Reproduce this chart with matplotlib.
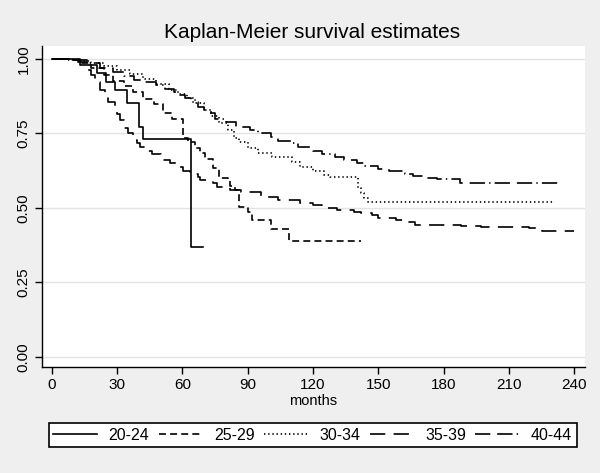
import numpy as np
import matplotlib
matplotlib.use("Agg")
import matplotlib.pyplot as plt

plt.rcParams['font.family'] = ['Liberation Sans', 'DejaVu Sans']
plt.rcParams['lines.scale_dashes'] = False

# Kaplan-Meier step data: event times (months) and survival
t_2024 = [0, 13, 20.7, 25, 29, 34.5, 39.9, 41.9, 64]
s_2024 = [1.0, 0.98, 0.952, 0.924, 0.896, 0.853, 0.773, 0.73, 0.368]
end_2024 = 69.5

t_2529 = [0, 8, 13, 18, 24, 28, 33, 37.5, 42, 47,
          51, 55, 60.3, 62.5, 66, 68, 70.6, 74, 77, 80.8,
          82, 84, 86, 90, 92, 100.5, 109]
s_2529 = [1.0, 0.995, 0.985, 0.97, 0.946, 0.925, 0.91, 0.89, 0.865, 0.848,
          0.82, 0.797, 0.735, 0.722, 0.70, 0.685, 0.665, 0.634, 0.60, 0.594,
          0.575, 0.56, 0.504, 0.488, 0.46, 0.43, 0.389]
end_2529 = 142

t_3034 = [0, 8, 14, 18, 24, 30, 36, 42, 48, 54,
          58, 62, 66, 70, 73, 77, 81, 83.5, 86, 90,
          94.5, 101, 110.5, 114, 120, 125, 128, 140.6, 142, 143.5,
          145]
s_3034 = [1.0, 0.997, 0.993, 0.986, 0.975, 0.962, 0.948, 0.932, 0.915, 0.897,
          0.884, 0.87, 0.852, 0.83, 0.808, 0.785, 0.762, 0.735, 0.72, 0.70,
          0.685, 0.672, 0.655, 0.637, 0.625, 0.612, 0.604, 0.567, 0.55, 0.535,
          0.521]
end_3034 = 230

t_3539 = [0, 8, 12, 16, 18, 20, 22, 24.5, 26, 29,
          30, 31.5, 33, 35, 37.5, 39, 40.6, 43.7, 46, 50,
          51.3, 54.5, 57.6, 60.5, 63.7, 67, 68, 74, 76, 82,
          87, 96, 104, 114, 120, 124, 131, 139, 142, 147,
          150, 158, 162, 167, 188, 197, 219, 225]
s_3539 = [1.0, 0.998, 0.99, 0.963, 0.945, 0.923, 0.896, 0.875, 0.855, 0.835,
          0.815, 0.795, 0.77, 0.75, 0.728, 0.718, 0.705, 0.69, 0.68, 0.67,
          0.66, 0.65, 0.637, 0.625, 0.615, 0.605, 0.594, 0.585, 0.57, 0.56,
          0.553, 0.537, 0.527, 0.517, 0.51, 0.50, 0.492, 0.487, 0.483, 0.475,
          0.466, 0.46, 0.452, 0.443, 0.44, 0.437, 0.433, 0.424]
end_3539 = 240

t_4044 = [0, 10, 16, 22, 28, 33, 38, 43, 48, 52,
          56, 59, 61, 64, 67, 70, 73, 75, 80, 84.5,
          91, 94.5, 100.5, 104, 110.5, 113, 120, 124, 130, 134,
          140, 144, 150, 155, 162, 166, 172, 177, 187.6]
s_4044 = [1.0, 0.995, 0.985, 0.97, 0.955, 0.942, 0.93, 0.922, 0.912, 0.90,
          0.89, 0.88, 0.87, 0.855, 0.84, 0.83, 0.82, 0.80, 0.79, 0.772,
          0.762, 0.752, 0.738, 0.725, 0.718, 0.705, 0.69, 0.682, 0.67, 0.662,
          0.65, 0.642, 0.63, 0.625, 0.615, 0.607, 0.60, 0.597, 0.584]
end_4044 = 235

labels = ["20-24", "25-29", "30-34", "35-39", "40-44"]
x_ticks = [0, 30, 60, 90, 120, 150, 180, 210, 240]
y_ticks = [0.0, 0.25, 0.5, 0.75, 1.0]

series = [(t_2024, s_2024, end_2024), (t_2529, s_2529, end_2529),
          (t_3034, s_3034, end_3034), (t_3539, s_3539, end_3539),
          (t_4044, s_4044, end_4044)]
dash_styles = [None, (0, (5, 3)), (0, (1, 2)), (0, (11, 6)), (0, (11, 5, 11, 3, 1, 3))]

fig = plt.figure(figsize=(6, 4.73), dpi=100, facecolor='#efefef')
ax = fig.add_axes([0.0695, 0.224, 0.906, 0.679])
ax.set_facecolor('white')

handles = []
for (t, s, end), ls, lab in zip(series, dash_styles, labels):
    line, = ax.step(t + [end], s + [s[-1]], where='post', color='black', lw=1.2,
                    linestyle='-' if ls is None else ls, label=lab)
    handles.append(line)

ax.set_xlim(-4.6, 245)
ax.set_ylim(-0.034, 1.044)
ax.set_xticks(x_ticks)
ax.set_yticks(y_ticks)
ax.set_yticklabels([f"{v:.2f}" for v in y_ticks], rotation=90, va='center')
ax.tick_params(axis='both', direction='out', length=5, width=1, labelsize=11, colors='black')
ax.tick_params(axis='x', pad=3)
ax.tick_params(axis='y', pad=3)
ax.grid(axis='y', color='#e3e3e3', lw=1)
ax.set_axisbelow(True)
for side in ['top', 'right']:
    ax.spines[side].set_visible(False)
for side in ['left', 'bottom']:
    ax.spines[side].set_linewidth(1)
    ax.spines[side].set_color('black')

ax.set_xlabel("months", fontsize=10.5, labelpad=1)
fig.text(0.52, 0.932, "Kaplan-Meier survival estimates", ha='center', va='center', fontsize=15)

leg = fig.legend(handles=handles, labels=labels, ncol=5, loc='center',
                 bbox_to_anchor=(0.521, 1 - 435 / 473),
                 fontsize=11.5, handlelength=2.75, handletextpad=0.7, columnspacing=0.6,
                 borderaxespad=0, borderpad=0.3, fancybox=False, framealpha=1,
                 edgecolor='black')
leg.get_frame().set_linewidth(1.2)

fig.savefig("out.png", dpi=100, facecolor=fig.get_facecolor())
